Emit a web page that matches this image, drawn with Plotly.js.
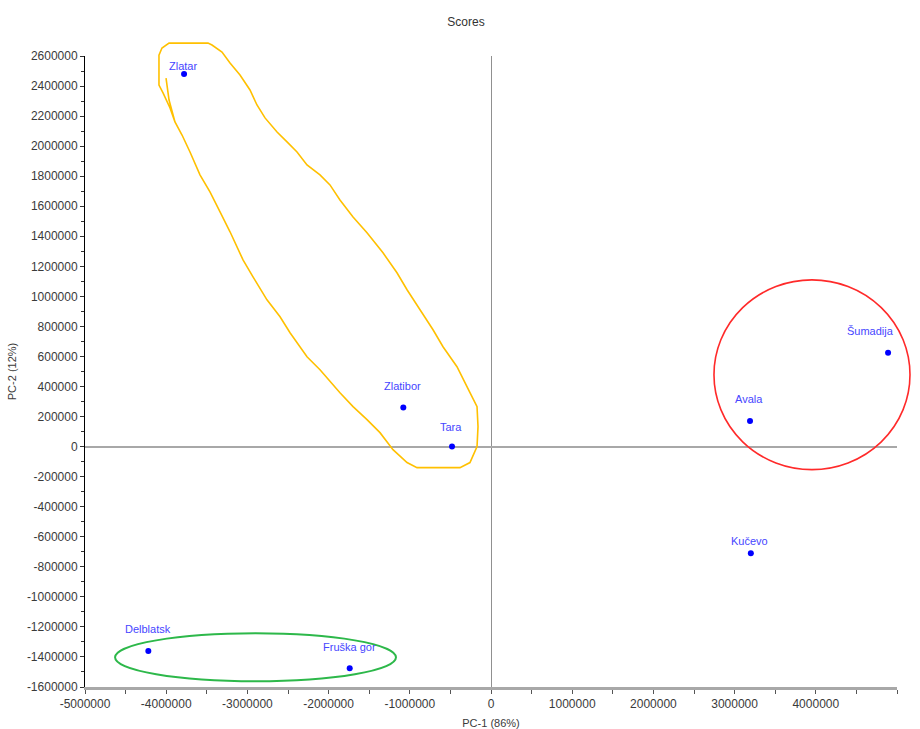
<!DOCTYPE html>
<html>
<head>
<meta charset="utf-8">
<script src="https://cdn.plot.ly/plotly-3.0.1.min.js"></script>
<style>html,body{margin:0;padding:0;background:#fff;}#chart{width:920px;height:729px;}</style>
</head>
<body>
<div id="chart"></div>
<script>
// ---- data ----
const sites = ["Zlatar", "Zlatibor", "Tara", "Avala", "Šumadija", "Kučevo", "Delblatsk", "Fruška gor"];
const pc1 = [-3780000, -1080000, -480000, 3190000, 4890000, 3200000, -4220000, -1740000];
const pc2 = [2480000, 260000, 0, 170000, 625000, -710000, -1360000, -1475000];

const xTickVals = [-5000000, -4000000, -3000000, -2000000, -1000000, 0, 1000000, 2000000, 3000000, 4000000, 5000000];
const yTickVals = [-1600000, -1400000, -1200000, -1000000, -800000, -600000, -400000, -200000, 0, 200000, 400000, 600000, 800000, 1000000, 1200000, 1400000, 1600000, 1800000, 2000000, 2200000, 2400000, 2600000];

// group outlines (data units)
const yellowX = [-4002000,-3965000,-3892000,-3805000,-3707000,-3584000,-3461000,-3337000,-3214000,-3054000,-2931000,-2759000,-2598000,-2475000,-2266000,-2106000,-1860000,-1699000,-1527000,-1367000,-1207000,-1034000,-911000,-382000,-259000,-172000,-160000,-172000,-259000,-419000,-591000,-714000,-874000,-1034000,-1158000,-1330000,-1527000,-1699000,-1860000,-1983000,-2106000,-2266000,-2389000,-2512000,-2635000,-2783000,-2882000,-2968000,-3091000,-3214000,-3313000,-3436000,-3485000,-3965000,-4052000,-4089000,-4089000,-4039000,-3953000,-3892000];
const yellowY = [2453000,2307000,2161000,2074000,1961000,1809000,1695000,1563000,1430000,1243000,1130000,977000,864000,758000,598000,512000,359000,266000,180000,93000,-20000,-106000,-140000,-140000,-106000,0,133000,266000,359000,532000,665000,778000,911000,1044000,1157000,1290000,1423000,1529000,1642000,1742000,1809000,1875000,1961000,2028000,2094000,2188000,2274000,2374000,2473000,2553000,2626000,2673000,2686000,2686000,2653000,2606000,2407000,2354000,2254000,2161000];
const redEllipse = {x0: 2746000, x1: 5160000, y0: -153000, y1: 1110000};
const greenEllipse = {x0: -4630000, x1: -1170000, y0: -1562000, y1: -1243000};

// ---- layout helpers ----
const xRange = [-5000000, 5000000];
const yRange = [-1600000, 2600000];
const toPX = v => (v - xRange[0]) / (xRange[1] - xRange[0]);
const toPY = v => (v - yRange[0]) / (yRange[1] - yRange[0]);

const labelShiftY = [8, 22, 20, 22, 22, 12, 22, 21];
const labelShiftX = [-1, -1, -1, -1, -18, -1, 0, 0];

let pathStr = "";
for (let i = 0; i < yellowX.length; i++) {
  pathStr += (i === 0 ? "M" : "L") + toPX(yellowX[i]).toFixed(5) + "," + toPY(yellowY[i]).toFixed(5) + " ";
}

const trace = {
  type: "scatter",
  mode: "markers",
  x: pc1,
  y: pc2,
  marker: {color: "#0000ff", size: 6},
  hoverinfo: "text",
  text: sites,
  cliponaxis: false
};

const annotations = sites.map((s, i) => ({
  x: pc1[i], y: pc2[i], xref: "x", yref: "y",
  text: s, showarrow: false,
  yshift: labelShiftY[i], xshift: labelShiftX[i],
  font: {family: "Liberation Sans, Arial, sans-serif", size: 11, color: "#4646ff"}
}));

const shapes = [
  {type: "path", xref: "paper", yref: "paper", path: pathStr,
   line: {color: "#ffc000", width: 1.6}, layer: "above"},
  {type: "circle", xref: "paper", yref: "paper",
   x0: toPX(redEllipse.x0), x1: toPX(redEllipse.x1), y0: toPY(redEllipse.y0), y1: toPY(redEllipse.y1),
   line: {color: "#ff2a2a", width: 1.6}},
  {type: "circle", xref: "paper", yref: "paper",
   x0: toPX(greenEllipse.x0), x1: toPX(greenEllipse.x1), y0: toPY(greenEllipse.y0), y1: toPY(greenEllipse.y1),
   line: {color: "#2db84a", width: 2}}
];

const tickFont = {family: "Liberation Sans, Arial, sans-serif", size: 12, color: "#3a3a3a"};

const layout = {
  width: 920, height: 729,
  margin: {l: 85, r: 23, t: 56, b: 42},
  paper_bgcolor: "#ffffff", plot_bgcolor: "#ffffff",
  showlegend: false,
  title: {text: "Scores", x: 466/920, xref: "container", xanchor: "center",
          y: 1 - 22/729, yref: "container", yanchor: "middle",
          font: {family: "Liberation Sans, Arial, sans-serif", size: 12, color: "#333"}},
  xaxis: {
    range: xRange, automargin: false,
    tickvals: xTickVals, ticktext: xTickVals.map(v => String(v)),
    ticks: "outside", ticklen: 4, tickcolor: "#555", tickwidth: 1,
    minor: {dtick: 500000, tick0: 0, ticks: "outside", ticklen: 4, tickcolor: "#555"},
    showline: true, linecolor: "#a8a8a8", linewidth: 3,
    showgrid: false, zeroline: true, zerolinecolor: "#909090", zerolinewidth: 1,
    tickfont: tickFont,
    title: {text: "PC-1 (86%)", standoff: 10, font: {family: "Liberation Sans, Arial, sans-serif", size: 11, color: "#3a3a3a"}}
  },
  yaxis: {
    range: yRange, automargin: false,
    tickvals: yTickVals, ticktext: yTickVals.map(v => String(v)),
    ticks: "outside", ticklen: 4, tickcolor: "#333", tickwidth: 1,
    minor: {dtick: 100000, tick0: 0, ticks: "outside", ticklen: 3, tickcolor: "#333"},
    showline: true, linecolor: "#000000", linewidth: 1,
    showgrid: false, zeroline: true, zerolinecolor: "#a8a8a8", zerolinewidth: 2,
    tickfont: tickFont,
    title: {text: "PC-2 (12%)", standoff: 8, font: {family: "Liberation Sans, Arial, sans-serif", size: 11, color: "#3a3a3a"}}
  },
  annotations: annotations,
  shapes: shapes
};

Plotly.newPlot("chart", [trace], layout, {displayModeBar: false, staticPlot: true});
</script>
</body>
</html>
